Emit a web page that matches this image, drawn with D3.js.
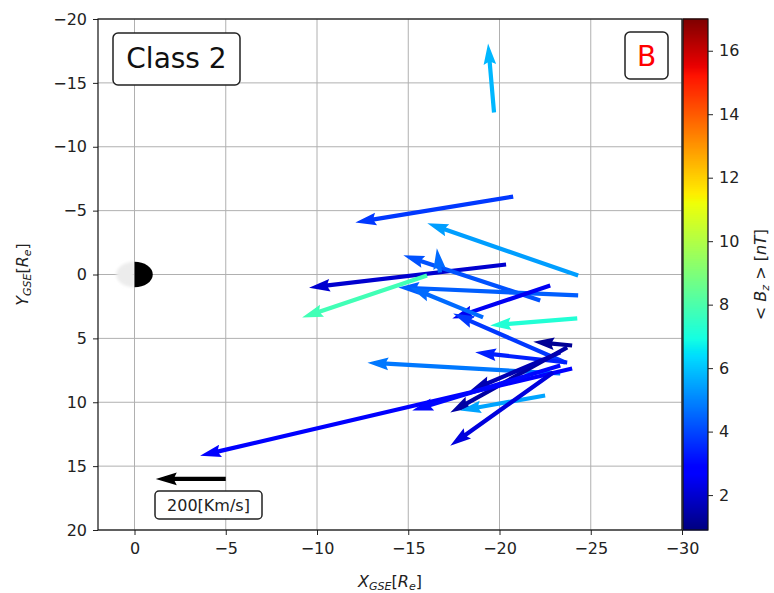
<!DOCTYPE html>
<html>
<head>
<meta charset="utf-8">
<script src="https://cdn.jsdelivr.net/npm/d3@7"></script>
<style>
  html, body { margin: 0; padding: 0; background: #fff; }
  svg { display: block; font-family: "DejaVu Sans", sans-serif; }
</style>
</head>
<body>
<svg id="chart" width="774" height="593"></svg>
<script>
// Flow vectors: tail position (X, Y in Re, GSE), velocity (km/s) and mean Bz (nT)
const tailX = [-19.70, -20.75, -24.31, -20.36, -16.03, -22.23, -16.74, -24.31, -22.78, -19.10,
               -23.60, -23.98, -23.71, -23.33, -23.71, -23.33, -23.98, -23.33, -22.50, -22.94, -24.26];
const tailY = [-12.68, -6.10, 0.08, -0.78, 0.08, 2.03, -0.16, 1.64, 0.86, 3.36,
               6.89, 5.56, 6.89, 7.75, 5.71, 6.10, 7.36, 7.12, 9.47, 7.67, 3.44];
const velX  = [17, 451, 431, 563, 357, 391, 9, 514, 280, 209,
               320, 111, 263, 551, 334, 257, 1063, 423, 243, 294, 249];
const velY  = [-197, 74, -149, 66, 120, -129, -69, -23, 94, -86,
               -140, -11, -29, -31, 186, 109, 249, 129, 43, 209, 20];
const meanBz = [5.8, 3.8, 5.4, 2.0, 7.8, 4.2, 4.6, 4.4, 2.5, 4.6,
                3.8, 1.2, 3.4, 4.8, 1.4, 1.6, 2.8, 3.0, 5.5, 2.2, 7.2];

const xTicks = [0, -5, -10, -15, -20, -25, -30];
const yTicks = [-20, -15, -10, -5, 0, 5, 10, 15, 20];
const cbTicks = [2, 4, 6, 8, 10, 12, 14, 16];
const xDomain = [2, -30];
const yDomain = [-20, 20];
const bzDomain = [0.9, 17];
const keySpeed = 200;           // reference arrow, km/s
const keyTail = [-5, 16];       // reference arrow position (Re)
const classLabel = "Class 2";
const panelLabel = "B";

const svg = d3.select("#chart");
const plot = { left: 98, right: 682, top: 19, bottom: 530 };
const cb = { left: 683, right: 708 };

const x = d3.scaleLinear().domain(xDomain).range([plot.left, plot.right]);
const y = d3.scaleLinear().domain(yDomain).range([plot.top, plot.bottom]);
const speedPx = d3.scaleLinear().domain([0, keySpeed]).range([0, 70]);

// jet colormap
function jet(t) {
  t = Math.max(0, Math.min(1, t));
  const seg = (pts) => {
    for (let i = 1; i < pts.length; i++) {
      if (t <= pts[i][0]) {
        const [t0, v0] = pts[i - 1], [t1, v1] = pts[i];
        return v0 + (v1 - v0) * (t - t0) / (t1 - t0);
      }
    }
    return pts[pts.length - 1][1];
  };
  const r = seg([[0, 0], [0.35, 0], [0.66, 1], [0.89, 1], [1, 0.5]]);
  const g = seg([[0, 0], [0.125, 0], [0.375, 1], [0.64, 1], [0.91, 0], [1, 0]]);
  const b = seg([[0, 0.5], [0.11, 1], [0.34, 1], [0.65, 0], [1, 0]]);
  return d3.rgb(r * 255, g * 255, b * 255).formatHex();
}
const color = d3.scaleSequential(jet).domain(bzDomain);

const defs = svg.append("defs");
defs.append("clipPath").attr("id", "plotClip")
  .append("rect").attr("x", plot.left).attr("y", plot.top)
  .attr("width", plot.right - plot.left).attr("height", plot.bottom - plot.top);
defs.append("filter").attr("id", "soft").attr("x", "-50%").attr("y", "-50%")
  .attr("width", "200%").attr("height", "200%")
  .append("feGaussianBlur").attr("stdDeviation", 1.5);

// grid
const grid = svg.append("g").attr("stroke", "#b0b0b0").attr("stroke-width", 1);
grid.selectAll("line.gx").data(xTicks).join("line")
  .attr("x1", d => x(d)).attr("x2", d => x(d))
  .attr("y1", plot.top).attr("y2", plot.bottom);
grid.selectAll("line.gy").data(yTicks).join("line")
  .attr("y1", d => y(d)).attr("y2", d => y(d))
  .attr("x1", plot.left).attr("x2", plot.right);

// Earth: day side light, night side dark
const body = svg.append("g").attr("clip-path", "url(#plotClip)");
const rx = Math.abs(x(1) - x(0)), ry = Math.abs(y(1) - y(0));
const cx0 = x(0), cy0 = y(0);
body.append("path")
  .attr("d", `M${cx0},${cy0 - ry} A${rx},${ry} 0 0,0 ${cx0},${cy0 + ry} Z`)
  .attr("fill", "#ececec").attr("filter", "url(#soft)");
body.append("path")
  .attr("d", `M${cx0},${cy0 - ry} A${rx},${ry} 0 0,1 ${cx0},${cy0 + ry} Z`)
  .attr("fill", "#000");

// quiver arrow polygon in pixel space
function arrowPath(x0, y0, dx, dy, w) {
  let L = Math.hypot(dx, dy);
  const hl = 5 * w, hal = 4.5 * w, hw = 3 * w;
  let pts = [[0, w / 2], [L - hal, w / 2], [L - hl, hw / 2], [L, 0],
             [L - hl, -hw / 2], [L - hal, -w / 2], [0, -w / 2]];
  if (L < hl) {
    const s = L / hl;
    pts = [[0, w / 2], [hl - hal, w / 2], [0, hw / 2], [hl, 0],
           [0, -hw / 2], [hl - hal, -w / 2], [0, -w / 2]].map(p => [p[0] * s, p[1] * s]);
  }
  const c = dx / L, s = dy / L;
  return "M" + pts.map(p => [x0 + p[0] * c - p[1] * s, y0 + p[0] * s + p[1] * c]
      .map(v => v.toFixed(2)).join(",")).join("L") + "Z";
}

const arrows = tailX.map((d, i) => ({ x: d, y: tailY[i], vx: velX[i], vy: velY[i], bz: meanBz[i] }));
const shaft = 4.2;
svg.append("g").attr("clip-path", "url(#plotClip)")
  .selectAll("path").data(arrows).join("path")
  .attr("d", d => arrowPath(x(d.x), y(d.y), -speedPx(d.vx), speedPx(d.vy), shaft))
  .attr("fill", d => color(d.bz));

// reference arrow
svg.append("path")
  .attr("d", arrowPath(x(keyTail[0]), y(keyTail[1]), -speedPx(keySpeed), 0, shaft))
  .attr("fill", "#000");
const keyBox = svg.append("g");
keyBox.append("rect").attr("x", 155).attr("y", 491).attr("width", 107).attr("height", 28)
  .attr("rx", 4).attr("fill", "#fff").attr("stroke", "#222").attr("stroke-width", 1.5);
keyBox.append("text").attr("x", 208.5).attr("y", 511).attr("text-anchor", "middle")
  .attr("font-size", 16).attr("fill", "#222").text(`${keySpeed}[Km/s]`);

// axes
const fmt = d => d3.format("d")(d).replace("-", "\u2212");
const axisX = svg.append("g").attr("transform", `translate(0,${plot.bottom})`)
  .call(d3.axisBottom(x).tickValues(xTicks).tickSize(5).tickPadding(8).tickFormat(fmt));
const axisY = svg.append("g").attr("transform", `translate(${plot.left},0)`)
  .call(d3.axisLeft(y).tickValues(yTicks).tickSize(5).tickPadding(6).tickFormat(fmt));
[axisX, axisY].forEach(a => {
  a.select(".domain").remove();
  a.selectAll("text").attr("font-size", 16).attr("fill", "#222").attr("font-family", "DejaVu Sans");
  a.selectAll("line").attr("stroke", "#222");
});
svg.append("rect").attr("x", plot.left).attr("y", plot.top)
  .attr("width", plot.right - plot.left).attr("height", plot.bottom - plot.top)
  .attr("fill", "none").attr("stroke", "#111").attr("stroke-width", 1.2);

// colorbar
const cbScale = d3.scaleLinear().domain(bzDomain).range([plot.bottom, plot.top]);
const steps = d3.range(0, 256).map(i => bzDomain[0] + (bzDomain[1] - bzDomain[0]) * i / 256);
const dstep = (bzDomain[1] - bzDomain[0]) / 256;
svg.append("g").selectAll("rect").data(steps).join("rect")
  .attr("x", cb.left).attr("width", cb.right - cb.left)
  .attr("y", d => cbScale(d + dstep) - 0.5)
  .attr("height", d => cbScale(d) - cbScale(d + dstep) + 1)
  .attr("fill", d => color(d + dstep / 2));
svg.append("rect").attr("x", cb.left).attr("y", plot.top)
  .attr("width", cb.right - cb.left).attr("height", plot.bottom - plot.top)
  .attr("fill", "none").attr("stroke", "#111").attr("stroke-width", 1.2);
const axisC = svg.append("g").attr("transform", `translate(${cb.right},0)`)
  .call(d3.axisRight(cbScale).tickValues(cbTicks).tickSize(5).tickPadding(6));
axisC.select(".domain").remove();
axisC.selectAll("text").attr("font-size", 16).attr("fill", "#222").attr("font-family", "DejaVu Sans");
axisC.selectAll("line").attr("stroke", "#222");

// axis labels
function mathLabel(sel, parts) {
  parts.forEach(p => {
    const t = sel.append("tspan").text(p.t);
    if (p.i) t.attr("font-style", "italic");
    if (p.sub) t.attr("font-size", 11).attr("dy", 3);
    if (p.up) t.attr("dy", -3);
  });
}
const xl = svg.append("text").attr("x", (plot.left + plot.right) / 2).attr("y", 587)
  .attr("text-anchor", "middle").attr("font-size", 16).attr("fill", "#222");
mathLabel(xl, [{ t: "X", i: 1 }, { t: "GSE", i: 1, sub: 1 }, { t: "[", up: 1 },
               { t: "R", i: 1 }, { t: "e", i: 1, sub: 1 }, { t: "]", up: 1 }]);

const yl = svg.append("text").attr("transform", `translate(28,${(plot.top + plot.bottom) / 2}) rotate(-90)`)
  .attr("text-anchor", "middle").attr("font-size", 16).attr("fill", "#222");
mathLabel(yl, [{ t: "Y", i: 1 }, { t: "GSE", i: 1, sub: 1 }, { t: "[", up: 1 },
               { t: "R", i: 1 }, { t: "e", i: 1, sub: 1 }, { t: "]", up: 1 }]);

const cl = svg.append("text").attr("transform", `translate(766,${(plot.top + plot.bottom) / 2}) rotate(-90)`)
  .attr("text-anchor", "middle").attr("font-size", 16).attr("fill", "#222");
mathLabel(cl, [{ t: "< " }, { t: "B", i: 1 }, { t: "z", i: 1, sub: 1 }, { t: " > [", up: 1 },
               { t: "nT", i: 1 }, { t: "]" }]);

// panel labels
svg.append("rect").attr("x", 113).attr("y", 33).attr("width", 127).attr("height", 52)
  .attr("rx", 5).attr("fill", "#fff").attr("stroke", "#222").attr("stroke-width", 1.5);
svg.append("text").attr("x", 176.5).attr("y", 68).attr("text-anchor", "middle")
  .attr("font-size", 28).attr("fill", "#111").text(classLabel);
svg.append("rect").attr("x", 625).attr("y", 32).attr("width", 43).attr("height", 47)
  .attr("rx", 5).attr("fill", "#fff").attr("stroke", "#222").attr("stroke-width", 1.5);
svg.append("text").attr("x", 646.5).attr("y", 66).attr("text-anchor", "middle")
  .attr("font-size", 28).attr("fill", "#ff0000").text(panelLabel);
</script>
</body>
</html>
